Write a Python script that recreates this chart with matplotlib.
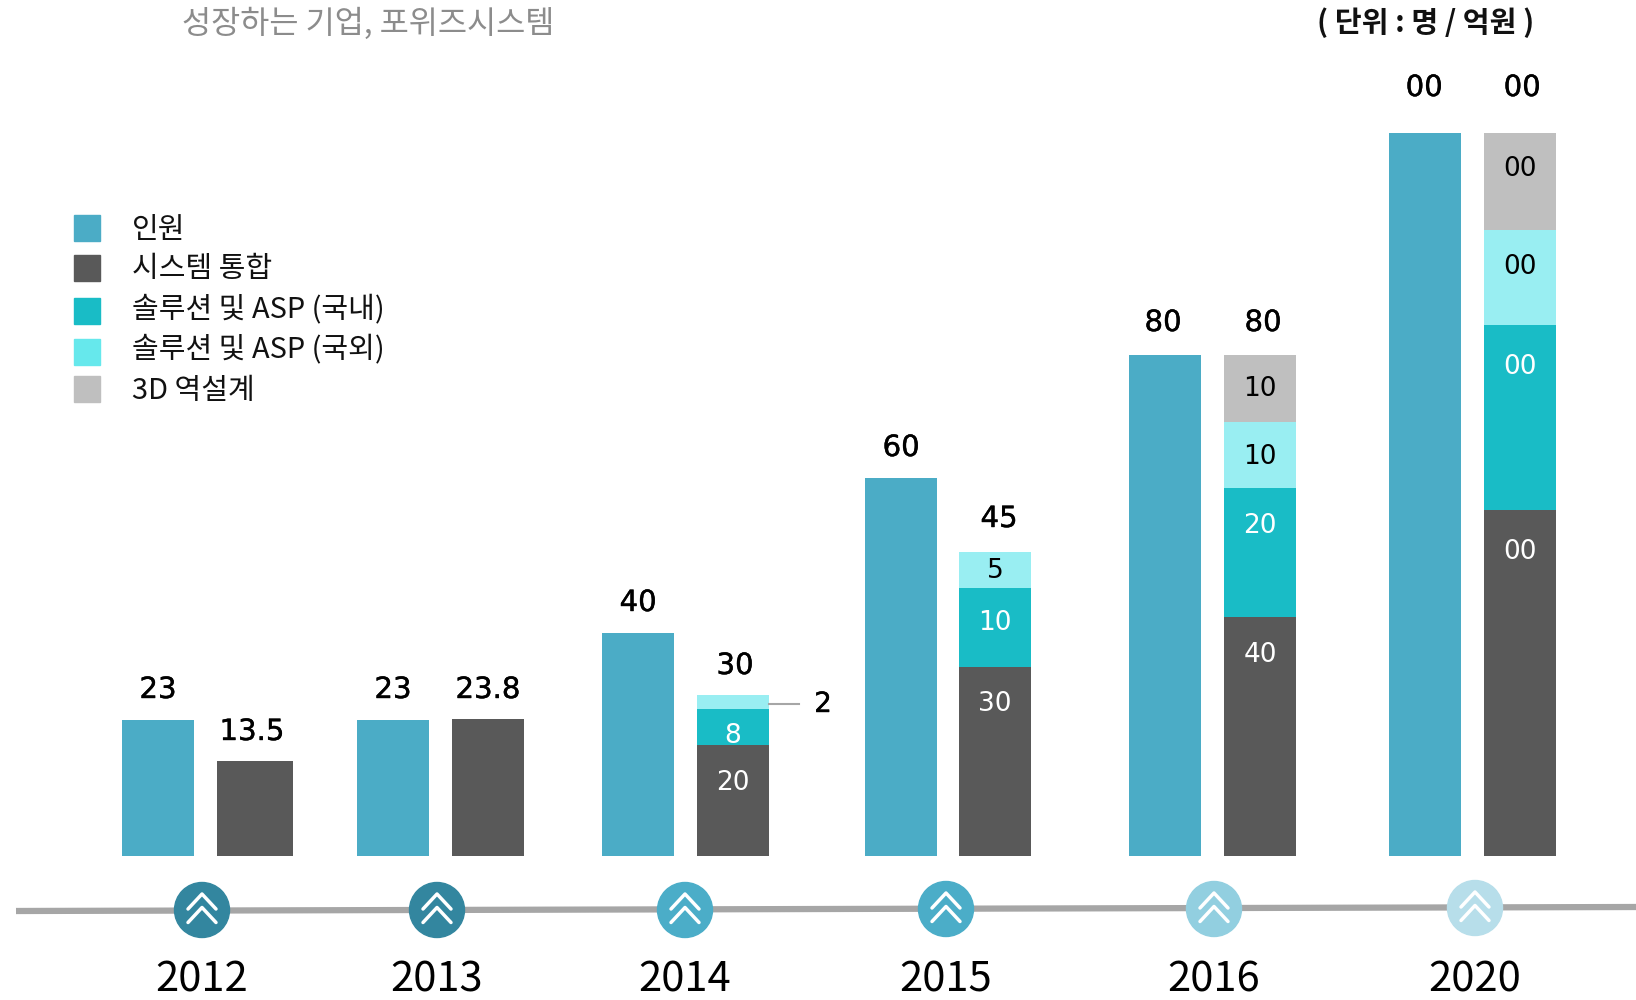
import matplotlib
matplotlib.use("Agg")
import matplotlib.pyplot as plt
import matplotlib.patheffects as pe
from matplotlib.patches import Circle, Rectangle

KR = ['Noto Sans CJK KR', 'DejaVu Sans']
NUM = ['DejaVu Sans']
YEAR = ['Noto Sans CJK KR', 'Noto Sans']

# data
years = ['2012', '2013', '2014', '2015', '2016', '2020']

# the source graphic is not drawn to scale, so bar heights are read off separately from the printed labels
staff_h = [136, 136, 223, 378, 501, 723]
system_h = [95, 137, 111, 189, 239, 346]
domestic_h = [0, 0, 36, 79.5, 129, 185.5]
overseas_h = [0, 0, 14, 35.5, 66.5, 95]
reverse_h = [0, 0, 0, 0, 66.5, 96.5]

staff_lbl = ['23', '23', '40', '60', '80', '00']
total_lbl = ['13.5', '23.8', '30', '45', '80', '00']
system_lbl = ['', '', '20', '30', '40', '00']
domestic_lbl = ['', '', '8', '10', '20', '00']
overseas_lbl = ['', '', '', '5', '10', '00']
reverse_lbl = ['', '', '', '', '10', '00']
callout_lbl = '2'

legend_names = ['인원', '시스템 통합', '솔루션 및 ASP (국내)', '솔루션 및 ASP (국외)', '3D 역설계']

# layout
BASE = 856
staff_x = [158, 393, 638, 901, 1165, 1425]
right_x = [255, 488, 733, 995, 1260, 1520]
dot_x = [202, 437, 685, 946, 1214, 1475]
dot_y = [910, 910, 910, 909, 909, 908]
staff_gap = [30, 30, 30, 30, 32, 45]
staff_dx = [0, 0, 0, 0, -2, -1]
total_gap = [29, 29, 29, 33, 32, 45]
total_dx = [-3, 0, 2, 4, 3, 2]
system_drop = [0, 0, 38, 37, 38, 42]
domestic_drop = [0, 0, 27, 35, 38, 42]
overseas_drop = [0, 0, 0, 19, 36, 38]
reverse_drop = [0, 0, 0, 0, 34, 36]
legend_y = [228, 268, 311, 352, 389]
legend_text_y = [230, 269, 309, 349, 391]

BLUE = '#4BACC6'
DARK = '#595959'
TEAL = '#19BCC6'
LIGHT = '#99EEF2'
GRAY = '#BFBFBF'
legend_colors = [BLUE, DARK, TEAL, '#66E8EC', GRAY]
dot_colors = ['#33869F', '#33869F', '#4BADC8', '#4BADC8', '#92CFE0', '#B7DEEA']
heavier = [pe.withStroke(linewidth=0.3, foreground='black')]


def py(y):
    return BASE - y


fig = plt.figure(figsize=(16.36, 10), dpi=100)
ax = fig.add_axes([0, 0, 1, 1])
ax.set_xlim(0, 1636)
ax.set_ylim(BASE - 1000, BASE)
ax.axis('off')

ax.bar(staff_x, staff_h, width=72, color=BLUE)

# stacked bars, the first one is a bit wider in the source
widths = [76, 72, 72, 72, 72, 72]
bottom = [0] * 6
stacks = [
    (system_h, DARK, system_lbl, system_drop, 'white'),
    (domestic_h, TEAL, domestic_lbl, domestic_drop, 'white'),
    (overseas_h, LIGHT, overseas_lbl, overseas_drop, 'black'),
    (reverse_h, GRAY, reverse_lbl, reverse_drop, 'black'),
]
for heights, color, labels, drops, tcolor in stacks:
    ax.bar(right_x, heights, width=widths, bottom=bottom, color=color)
    for i in range(6):
        top = bottom[i] + heights[i]
        if labels[i]:
            ax.text(right_x[i], top - drops[i], labels[i], color=tcolor, fontsize=19, family=NUM,
                    ha='center', va='center')
    bottom = [b + h for b, h in zip(bottom, heights)]

for i in range(6):
    ax.text(staff_x[i] + staff_dx[i], staff_h[i] + staff_gap[i], staff_lbl[i], fontsize=21, family=NUM,
            ha='center', va='center', color='black', path_effects=heavier)
    ax.text(right_x[i] + total_dx[i], bottom[i] + total_gap[i], total_lbl[i], fontsize=21, family=NUM,
            ha='center', va='center', color='black', path_effects=heavier)

# callout for the small 2014 segment
ax.plot([769, 799], [py(704), py(704)], color='#A6A6A6', lw=1.5)
ax.text(823, py(704), callout_lbl, fontsize=20, family=NUM, ha='center', va='center', color='black',
        path_effects=heavier)

# timeline
ax.plot([16, 1636], [py(911), py(907)], color='#A6A6A6', lw=4.5, solid_capstyle='butt', zorder=2)
for x, y, c, year in zip(dot_x, dot_y, dot_colors, years):
    ax.add_patch(Circle((x, py(y)), 27.5, color=c, zorder=3))
    for off in (-16, -2.5):
        ax.plot([x - 14, x, x + 14], [py(y + off + 15), py(y + off), py(y + off + 15)], color='white',
                lw=2.5, solid_capstyle='round', solid_joinstyle='round', zorder=4)
    ax.text(x, py(991), year, fontsize=30, family=YEAR, ha='center', va='baseline', color='black')

# legend
for y, c, ty, name in zip(legend_y, legend_colors, legend_text_y, legend_names):
    ax.add_patch(Rectangle((74, py(y + 13)), 26, 26, color=c))
    ax.text(132, py(ty), name, fontsize=20.9, family=KR, ha='left', va='center', color='#111111')

ax.text(182, py(24), '성장하는 기업, 포위즈시스템', fontsize=22.8, family=KR, ha='left', va='center',
        color='#8C8C8C')
ax.text(1426, py(23), '( 단위 : 명 / 억원 )', fontsize=21, family=KR, fontweight='bold', ha='center',
        va='center', color='#111111')

fig.savefig('out.png', dpi=100)
